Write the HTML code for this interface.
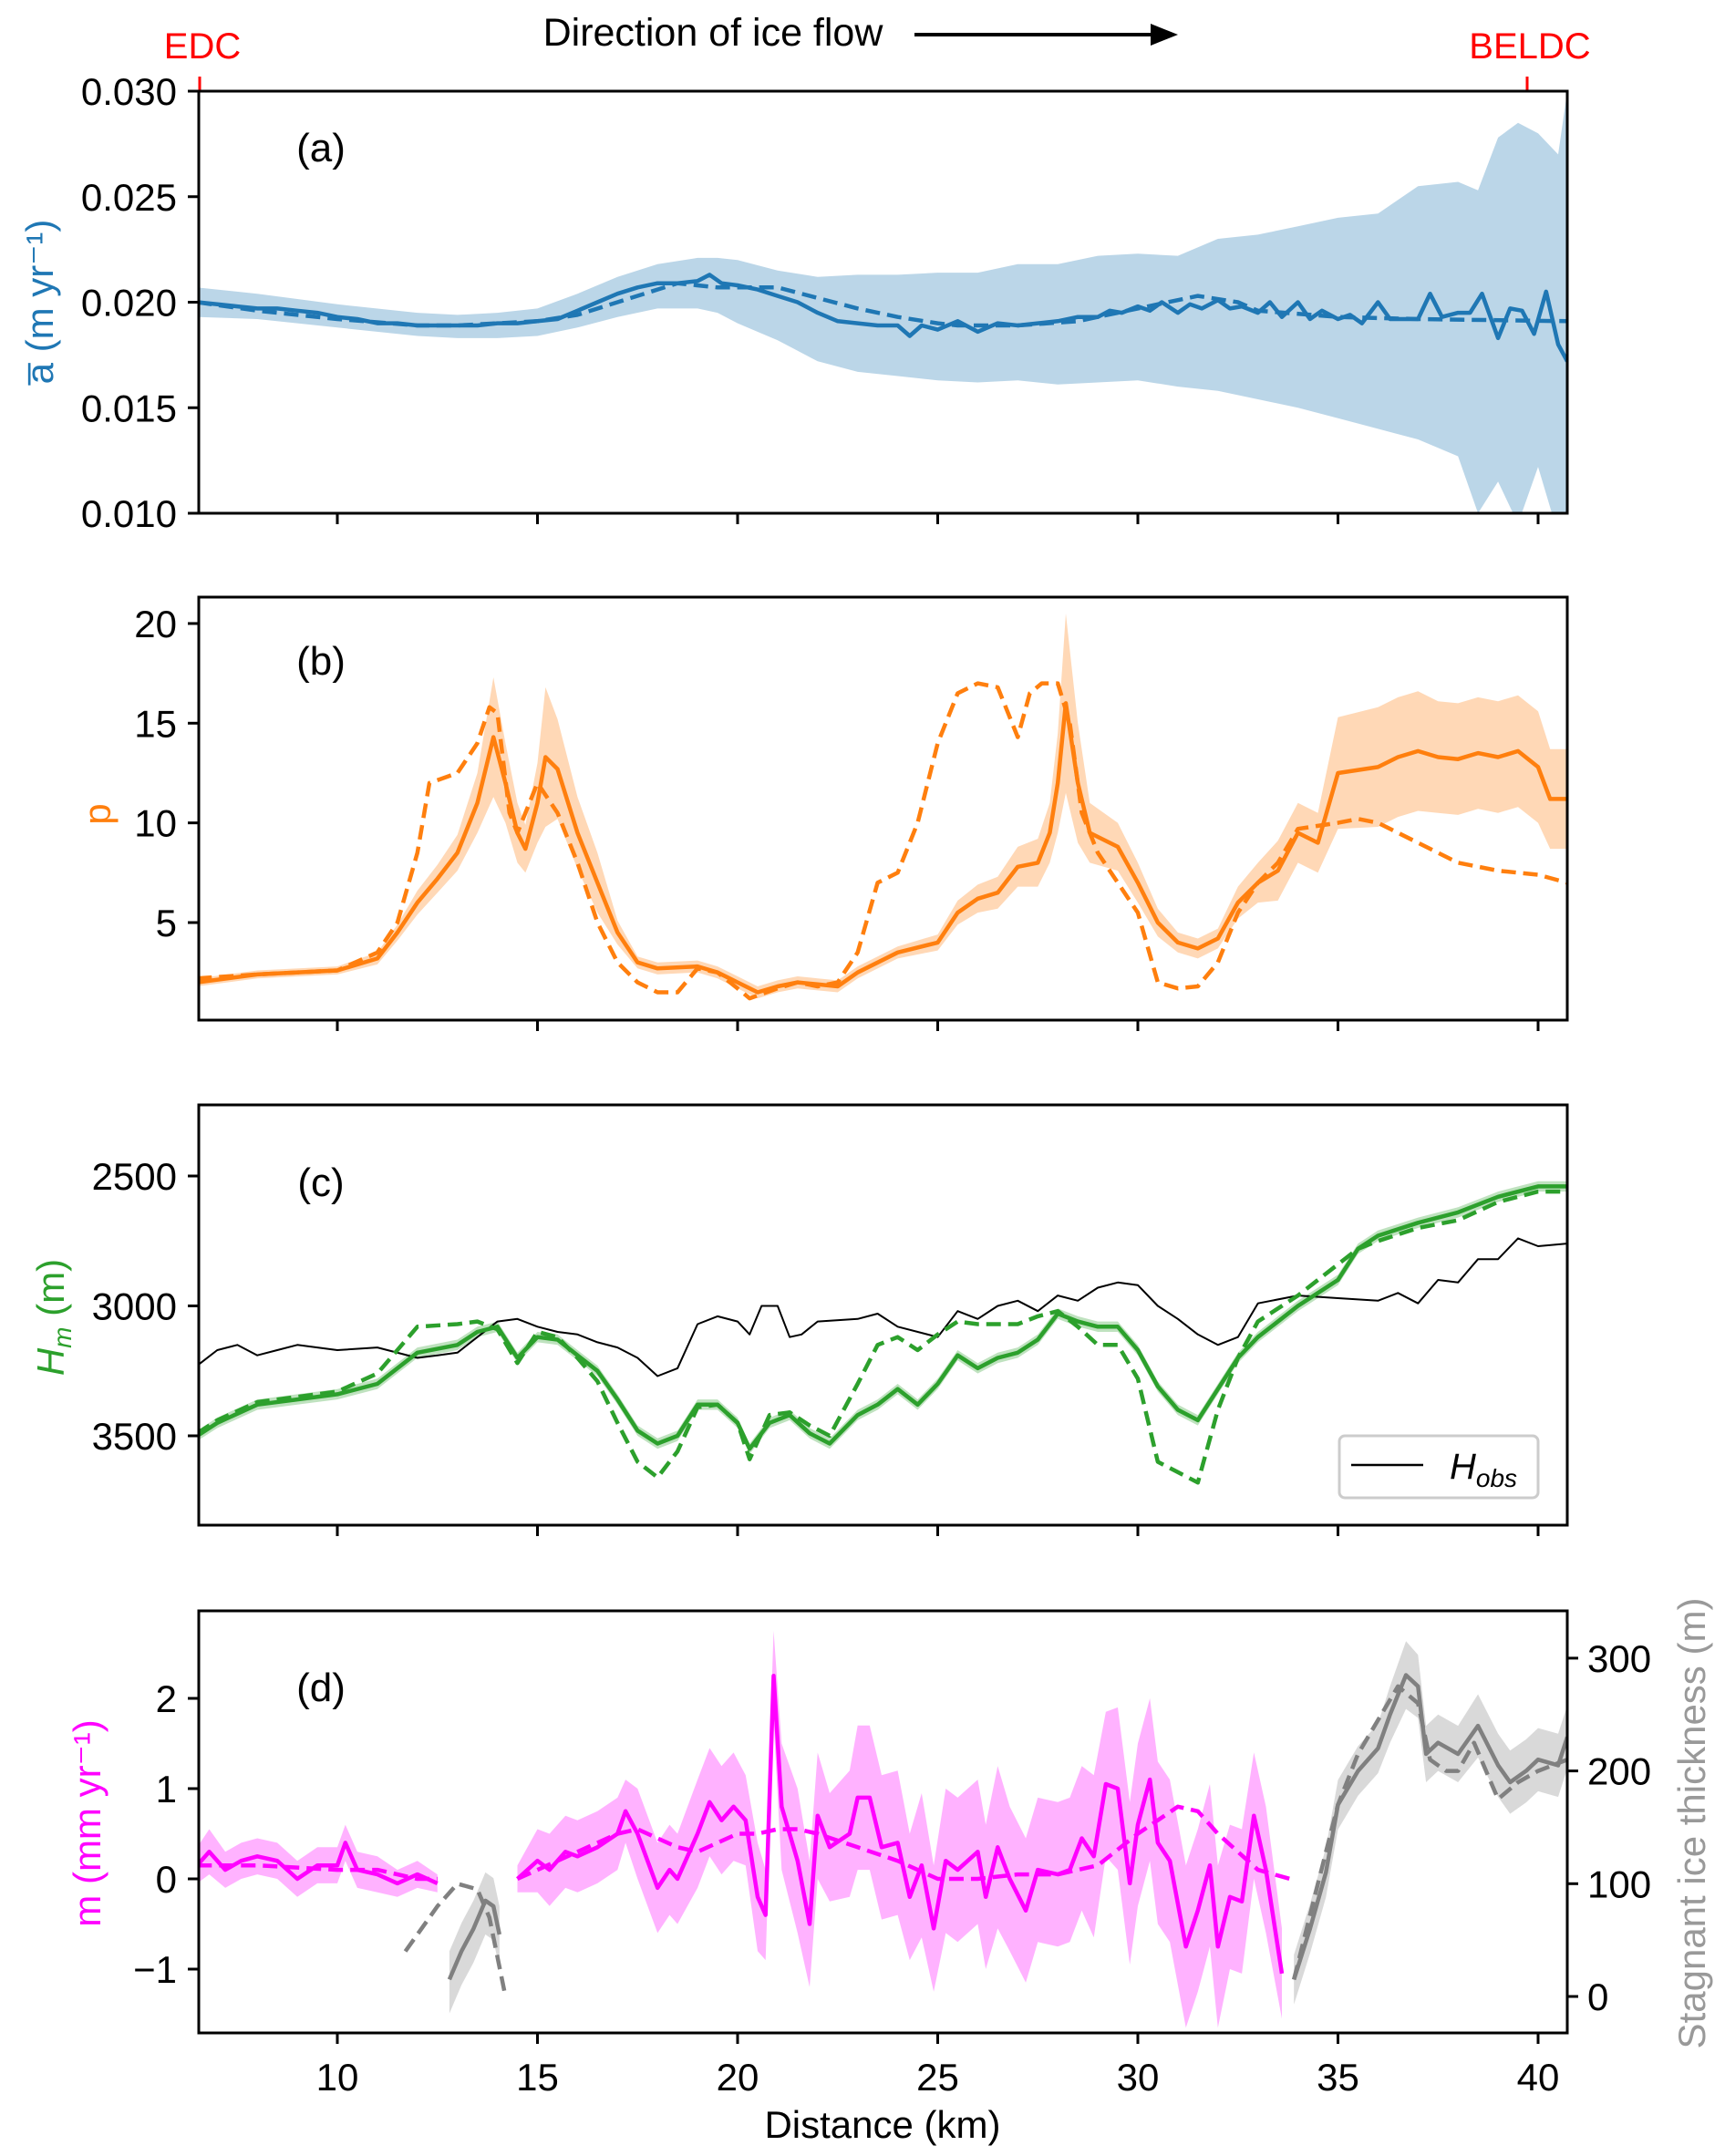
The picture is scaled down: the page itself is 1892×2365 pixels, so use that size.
<!DOCTYPE html>
<html><head><meta charset="utf-8"><style>
body{margin:0;background:#fff}
svg{display:block;font-family:"Liberation Sans","DejaVu Sans",sans-serif}
</style></head><body>
<svg id="fig" width="1892" height="2365" viewBox="0 0 1892 2365" xmlns="http://www.w3.org/2000/svg">
<rect width="1892" height="2365" fill="#fff"/>
<text x="782" y="50" font-size="43" text-anchor="middle">Direction of ice flow</text>
<line x1="1003" y1="38" x2="1265" y2="38" stroke="#000" stroke-width="4"/>
<polygon points="1262,26 1292,38 1262,50" fill="#000"/>
<text x="222" y="64" font-size="40" fill="#f00" text-anchor="middle">EDC</text>
<line x1="219" y1="84" x2="219" y2="100" stroke="#f00" stroke-width="3"/>
<text x="1678" y="64" font-size="40" fill="#f00" text-anchor="middle">BELDC</text>
<line x1="1675" y1="84" x2="1675" y2="100" stroke="#f00" stroke-width="3"/>
<g id="plots"></g>
<text x="968" y="2345" font-size="42" text-anchor="middle">Distance (km)</text>
</svg>
<script>
// ---------- data ----------
const xTicks=[10,15,20,25,30,35,40];
// panel a
const aX=[6.5,7,7.5,8,8.5,9,9.5,10,10.5,11,11.5,12,12.5,13,13.5,14,14.5,15,15.5,16,16.5,17,17.5,18,18.5,19,19.3,19.6,20,20.5,21,21.5,22,22.5,23,23.5,24,24.3,24.6,25,25.5,26,26.5,27,27.5,28,28.5,29,29.3,29.6,30,30.3,30.6,31,31.3,31.6,32,32.3,32.6,33,33.3,33.6,34,34.3,34.6,35,35.3,35.6,36,36.3,36.6,37,37.3,37.6,38,38.3,38.6,39,39.3,39.6,39.9,40.2,40.5,40.73];
const aSolid=[0.0200,0.0199,0.0198,0.0197,0.0197,0.0196,0.0195,0.0193,0.0192,0.0190,0.0190,0.0189,0.0189,0.0189,0.0189,0.0190,0.0190,0.0191,0.0192,0.0196,0.0200,0.0204,0.0207,0.0209,0.0209,0.0210,0.0213,0.0209,0.0208,0.0206,0.0203,0.0200,0.0195,0.0191,0.0190,0.0189,0.0189,0.0184,0.0189,0.0187,0.0191,0.0186,0.0190,0.0189,0.0190,0.0191,0.0193,0.0193,0.0196,0.0195,0.0198,0.0196,0.0200,0.0195,0.0199,0.0197,0.0201,0.0197,0.0198,0.0195,0.0200,0.0193,0.0200,0.0192,0.0196,0.0192,0.0194,0.0190,0.0200,0.0192,0.0192,0.0192,0.0204,0.0193,0.0195,0.0195,0.0204,0.0183,0.0197,0.0196,0.0185,0.0205,0.0180,0.0172,0.0190];
const aDashX=[6.5,8,10,12,13,14,15,16,17,18,18.5,19.5,20,21,22,23,24,25,25.5,27,28.5,30,31,31.5,32.5,33,35,37,40.73];
const aDash=[0.0200,0.0196,0.0192,0.0189,0.0189,0.0190,0.0191,0.0194,0.0200,0.0206,0.0209,0.0207,0.0207,0.0207,0.0202,0.0197,0.0193,0.0190,0.0189,0.0189,0.0191,0.0197,0.0201,0.0203,0.0200,0.0196,0.0193,0.0192,0.0191];
const aBandX=[6.5,8,10,12,13,14,15,16,17,18,19,19.5,20,21,22,23,24,25,26,27,28,29,30,31,32,33,34,35,36,37,38,38.5,39,39.5,40,40.5,40.73];
const aLo=[0.0193,0.0192,0.0188,0.0184,0.0183,0.0183,0.0184,0.0188,0.0193,0.0197,0.0197,0.0195,0.0190,0.0182,0.0172,0.0167,0.0165,0.0163,0.0162,0.0163,0.0161,0.0162,0.0163,0.0160,0.0158,0.0154,0.0150,0.0145,0.0140,0.0135,0.0127,0.0100,0.0115,0.0095,0.0122,0.0090,0.0090];
const aHi=[0.0207,0.0204,0.0199,0.0195,0.0194,0.0195,0.0197,0.0204,0.0212,0.0218,0.0221,0.0221,0.0220,0.0215,0.0212,0.0213,0.0213,0.0214,0.0214,0.0218,0.0218,0.0222,0.0223,0.0222,0.0230,0.0232,0.0236,0.0240,0.0242,0.0255,0.0257,0.0253,0.0278,0.0285,0.0280,0.0270,0.0300];
// panel b
const pX=[6.5,8,10,11,11.5,12,12.5,13,13.5,13.9,14.2,14.5,14.7,15,15.2,15.5,16,16.5,17,17.5,18,19,19.5,20,20.5,21,21.5,22,22.5,23,24,25,25.5,26,26.5,27,27.5,27.8,28,28.2,28.5,28.8,29.5,30,30.5,31,31.5,32,32.5,33,33.5,34,34.5,35,36,36.5,37,37.5,38,38.5,39,39.5,40,40.3,40.73];
const pSolid=[2.0,2.4,2.6,3.2,4.5,6.0,7.2,8.5,11,14.3,12,9.5,8.7,11,13.3,12.7,9.5,7,4.5,3.0,2.7,2.8,2.5,2.0,1.5,1.8,2.0,1.9,1.8,2.5,3.5,4.0,5.5,6.2,6.5,7.8,8.0,9.5,12,16,12,9.5,8.8,7,5,4,3.7,4.2,6.0,7.0,7.6,9.5,9.0,12.5,12.8,13.3,13.6,13.3,13.2,13.5,13.3,13.6,12.8,11.2,11.2];
const pHalf=[0.2,0.2,0.2,0.3,0.4,0.6,0.7,0.9,1.5,3,2,1.5,1.2,2,3.5,2.5,1.8,1.5,0.6,0.3,0.3,0.3,0.3,0.3,0.3,0.3,0.3,0.3,0.3,0.3,0.3,0.4,0.6,0.7,0.8,1,1.2,1.5,2.5,4.5,3,1.5,1.2,1,0.7,0.5,0.5,0.5,0.8,1,1.5,1.5,1.5,2.8,3,3,3,2.8,2.8,2.8,2.8,2.8,2.8,2.5,2.5];
const pDashX=[6.5,8,10,11,11.5,12,12.3,13,13.5,13.8,14,14.3,14.5,15,15.5,16,16.5,17,17.5,18,18.5,19,19.5,20,20.3,21,21.5,22,22.5,23,23.5,24,24.5,25,25.5,26,26.5,27,27.3,27.6,28,28.3,28.6,29,29.5,30,30.5,31,31.5,32,32.5,33,33.5,34,35,35.5,36,37,38,39,39.5,40,40.73];
const pDash=[2.2,2.4,2.6,3.5,5,8.5,12,12.5,14,15.8,15.5,10.5,9.5,12,10.5,8,5,3,2,1.5,1.5,2.7,2.5,1.7,1.2,1.7,2.0,1.8,2.0,3.5,7,7.5,10,14,16.5,17,16.8,14.3,16.5,17,17,15,10.5,8.5,7,5.5,2,1.7,1.8,3,5.5,7,8,9.7,10,10.2,10,9,8,7.6,7.5,7.4,7.0];
// panel c
const hX=[6.5,7,8,9,10,11,12,13,13.5,14,14.5,15,15.5,16,16.5,17,17.5,18,18.5,19,19.5,20,20.3,20.8,21.3,21.8,22.3,23,23.5,24,24.5,25,25.5,26,26.5,27,27.5,28,28.5,29,29.5,30,30.5,31,31.5,32,32.5,33,34,35,35.5,36,37,38,39,40,40.73];
const hSolid=[3500,3450,3380,3360,3340,3300,3180,3150,3100,3080,3200,3120,3130,3190,3250,3360,3480,3530,3500,3380,3380,3450,3550,3450,3420,3490,3530,3420,3380,3320,3380,3300,3190,3240,3200,3180,3130,3030,3060,3080,3080,3170,3310,3400,3440,3320,3200,3120,3000,2900,2780,2730,2680,2640,2580,2540,2540];
const hDash=[3490,3440,3370,3350,3330,3260,3080,3070,3060,3090,3220,3100,3120,3200,3290,3450,3600,3660,3560,3390,3380,3450,3590,3420,3410,3460,3500,3300,3150,3120,3170,3110,3060,3070,3070,3070,3040,3020,3080,3150,3150,3280,3600,3640,3680,3400,3200,3060,2960,2840,2780,2750,2700,2670,2600,2560,2560];
const obsX=[6.5,7,7.5,8,8.5,9,10,11,12,12.5,13,14,14.5,15,15.5,16,16.5,17,17.5,18,18.5,19,19.5,20,20.3,20.6,21,21.3,21.6,22,23,23.5,24,25,25.5,26,26.5,27,27.5,28,28.5,29,29.5,30,30.5,31,31.5,32,32.5,33,34,35,36,36.5,37,37.5,38,38.5,39,39.5,40,40.73];
const obs=[3230,3170,3150,3190,3170,3150,3170,3160,3200,3190,3180,3060,3050,3080,3100,3110,3140,3160,3200,3270,3240,3070,3040,3060,3110,3000,3000,3120,3110,3060,3050,3030,3080,3120,3020,3050,3000,2980,3020,2960,2980,2930,2910,2920,3000,3050,3110,3150,3120,2990,2960,2970,2980,2950,2990,2900,2910,2820,2820,2740,2770,2760];
// panel d
const mX1=[6.5,6.8,7.2,7.6,8,8.5,9,9.5,10,10.2,10.5,11,11.5,12,12.5];
const mS1=[0.15,0.3,0.1,0.2,0.25,0.2,0.0,0.15,0.15,0.4,0.1,0.05,-0.05,0.05,-0.05];
const mH1=[0.2,0.25,0.2,0.2,0.2,0.2,0.2,0.2,0.2,0.2,0.2,0.2,0.15,0.15,0.1];
const mX2=[14.5,15,15.3,15.7,16,16.5,17,17.2,17.5,18,18.3,18.5,19,19.3,19.6,19.9,20.2,20.5,20.7,20.9,21.1,21.5,21.8,22,22.3,22.8,23,23.3,23.6,24,24.3,24.6,24.9,25.2,25.5,26,26.2,26.5,26.8,27.2,27.5,28,28.3,28.6,28.9,29.2,29.5,29.8,30,30.3,30.5,30.8,31.2,31.5,31.8,32,32.3,32.6,32.9,33.2,33.6];
const mS2=[0.0,0.2,0.1,0.3,0.25,0.35,0.5,0.75,0.5,-0.1,0.1,0.0,0.5,0.85,0.65,0.8,0.65,-0.2,-0.4,2.25,0.8,0.2,-0.5,0.7,0.35,0.5,0.9,0.9,0.35,0.4,-0.2,0.15,-0.55,0.2,0.1,0.3,-0.2,0.35,0.0,-0.35,0.1,0.05,0.1,0.45,0.25,1.05,1.0,-0.05,0.6,1.1,0.4,0.2,-0.75,-0.35,0.15,-0.75,-0.2,-0.25,0.7,0.1,-1.05];
const mH2=[0.15,0.35,0.4,0.4,0.4,0.4,0.4,0.35,0.5,0.5,0.5,0.5,0.6,0.6,0.6,0.6,0.5,0.6,0.5,0.5,0.7,0.8,0.7,0.7,0.6,0.7,0.8,0.8,0.8,0.8,0.7,0.8,0.7,0.8,0.8,0.8,0.8,0.9,0.8,0.8,0.8,0.8,0.8,0.8,0.9,0.8,0.9,0.9,0.9,0.9,0.9,0.9,0.9,0.9,0.9,0.9,0.8,0.8,0.7,0.7,0.5];
const mDX1=[6.5,8,10,11,12,12.5];
const mD1=[0.15,0.15,0.1,0.1,0.0,0.0];
const mDX2=[14.5,16,17,17.5,18,18.5,19,20,20.5,21,21.5,22,23,24,25,26,27,28,29,30,31,31.5,32,33,33.8];
const mD2=[0.0,0.3,0.5,0.55,0.45,0.35,0.3,0.5,0.5,0.55,0.55,0.5,0.35,0.2,0.0,0.0,0.05,0.05,0.15,0.5,0.8,0.75,0.5,0.1,0.0];
const gX1=[12.8,13.1,13.4,13.7,13.9,14.05];
const gS1=[15,40,60,85,80,55];
const gX2=[33.9,34.3,34.7,35,35.5,36,36.3,36.7,37,37.2,37.5,38,38.5,39,39.3,39.7,40,40.5,40.73];
const gS2=[15,60,110,170,200,220,250,285,275,215,225,215,240,205,190,200,210,205,230];
const gH=[22,22,22,22,22,22,25,30,28,25,25,25,28,28,28,28,28,28,28];
const gDX1=[11.7,12,12.5,13,13.5,13.8,14.2];
const gD1=[40,55,80,100,95,70,0];
const gDX2=[33.9,34.5,35,35.5,36,36.5,37,37.3,37.7,38,38.4,39,39.5,40,40.73];
const gD2=[15,100,170,215,245,275,260,210,200,200,225,175,190,200,210];

// ---------- axes ----------
const L=218,R=1719;
const xs=k=>370+(k-10)*43.9;
const NS='http://www.w3.org/2000/svg';
const root=document.getElementById('plots');
function el(tag,attrs,parent){const e=document.createElementNS(NS,tag);for(const k in attrs)e.setAttribute(k,attrs[k]);(parent||root).appendChild(e);return e;}
function linePath(X,Y,ys){return X.map((x,i)=>(i?'L':'M')+xs(x).toFixed(1)+','+ys(Y[i]).toFixed(1)).join('');}
function bandPath(X,lo,hi,ys){let d=X.map((x,i)=>(i?'L':'M')+xs(x).toFixed(1)+','+ys(hi[i]).toFixed(1)).join('');for(let i=X.length-1;i>=0;i--)d+='L'+xs(X[i]).toFixed(1)+','+ys(lo[i]).toFixed(1);return d+'Z';}

function panel(id,top,bot){
  const g=el('g',{});
  
  
  const cp=el('clipPath',{id:'clip-'+id},g);
  el('rect',{x:L,y:top,width:R-L,height:bot-top},cp);
  const data=el('g',{'clip-path':'url(#clip-'+id+')'},g);
  
  
  xTicks.forEach(t=>{
    const tk=el('line',{x1:xs(t),x2:xs(t),y1:bot,y2:bot+12,stroke:'#000','stroke-width':3},g);
    
    
  });
  return {g,data,top,bot};
}
function frame(p,id){
  const f=el('rect',{x:L,y:p.top,width:R-L,height:p.bot-p.top,fill:'none',stroke:'#000','stroke-width':3},p.g);
  
  
}
function yTicks(p,vals,labels,ys,id){
  vals.forEach((v,i)=>{
    const t=el('line',{x1:L-12,x2:L,y1:ys(v),y2:ys(v),stroke:'#000','stroke-width':3},p.g);
    
    
    const tx=el('text',{x:L-24,y:ys(v)+15,'font-size':42,'text-anchor':'end'},p.g);
    tx.textContent=labels[i];
    
    
  });
}
function series(p,d,color,w,dash,name){
  const a={d:d,fill:'none',stroke:color,'stroke-width':w,'stroke-linejoin':'round'};
  if(dash)a['stroke-dasharray']=dash;
  const e=el('path',a,p.data);
  
  
}
function band(p,d,color,op,name){
  const e=el('path',{d:d,fill:color,'fill-opacity':op},p.data);
  
  
}
function label(x,y,txt,color,rot,name,size){
  const t=el('text',{x:x,y:y,'font-size':size||42,fill:color,'text-anchor':'middle',transform:rot?`rotate(${rot} ${x} ${y})`:''});
  t.textContent=txt;
  
  
  return t;
}

// panel a
const ya=v=>100+(0.030-v)/0.020*463;
const pa=panel('a',100,563);
band(pa,bandPath(aBandX,aLo,aHi,ya),'#1f77b4',0.3,'accumulation-uncertainty-band');
series(pa,linePath(aDashX,aDash,ya),'#1f77b4',4.5,'16 8','accumulation-dashed-line');
series(pa,linePath(aX,aSolid,ya),'#1f77b4',4.5,null,'accumulation-line');
frame(pa,'a');
yTicks(pa,[0.010,0.015,0.020,0.025,0.030],['0.010','0.015','0.020','0.025','0.030'],ya,'a');
label(352,177,'(a)','#000',0,'panel-label-a',44);
label(58,331,'a̅ (m yr⁻¹)','#1f77b4',-90,'y-axis-title-a');

// panel b
const yb=v=>1012-(v-5)*21.87;
const pb=panel('b',655,1119);
band(pb,bandPath(pX,pSolid.map((v,i)=>v-pHalf[i]),pSolid.map((v,i)=>v+pHalf[i]),yb),'#ff7f0e',0.3,'p-uncertainty-band');
series(pb,linePath(pDashX,pDash,yb),'#ff7f0e',4.5,'16 8','p-dashed-line');
series(pb,linePath(pX,pSolid,yb),'#ff7f0e',4.5,null,'p-line');
frame(pb,'b');
yTicks(pb,[5,10,15,20],['5','10','15','20'],yb,'b');
label(352,740,'(b)','#000',0,'panel-label-b',44);
label(121,893,'p','#ff7f0e',-90,'y-axis-title-b');

// panel c
const yc=v=>1290+(v-2500)*0.285;
const pc=panel('c',1212,1673);
band(pc,bandPath(hX,hSolid.map(v=>v-20),hSolid.map(v=>v+20),yc),'#2ca02c',0.3,'hm-uncertainty-band');
series(pc,linePath(obsX,obs,yc),'#000',2,null,'h-obs-line');
series(pc,linePath(hX,hDash,yc),'#2ca02c',4.5,'16 8','hm-dashed-line');
series(pc,linePath(hX,hSolid,yc),'#2ca02c',4.5,null,'hm-line');
frame(pc,'c');
yTicks(pc,[2500,3000,3500],['2500','3000','3500'],yc,'c');
label(352,1312,'(c)','#000',0,'panel-label-c',44);
(function(){
  const t=label(70,1445,'','#2ca02c',-90,'y-axis-title-c');
  t.innerHTML='<tspan font-style="italic">H</tspan><tspan font-style="italic" font-size="28" dy="8">m</tspan><tspan dy="-8"> (m)</tspan>';
})();
const lg=el('g',{});


el('rect',{x:1469,y:1575,width:218,height:68,rx:6,fill:'#fff',stroke:'#ccc','stroke-width':3},lg);
el('line',{x1:1482,x2:1561,y1:1607,y2:1607,stroke:'#000','stroke-width':2.5},lg);
const lt=el('text',{x:1590,y:1622,'font-size':40,'font-style':'italic'},lg);
lt.innerHTML='H<tspan font-size="28" dy="9">obs</tspan>';



// panel d
const yd=v=>2061-v*99;
const yr=v=>2190-v*1.237;
const pd=panel('d',1767,2230);
band(pd,bandPath(mX1,mS1.map((v,i)=>v-mH1[i]),mS1.map((v,i)=>v+mH1[i]),yd),'#ff00ff',0.3,'melt-band-1');
band(pd,bandPath(mX2,mS2.map((v,i)=>v-mH2[i]),mS2.map((v,i)=>v+mH2[i]),yd),'#ff00ff',0.3,'melt-band-2');
band(pd,bandPath(gX1,gS1.map(v=>v-30),gS1.map(v=>v+25),yr),'#808080',0.3,'stagnant-band-1');
band(pd,bandPath(gX2,gS2.map((v,i)=>v-gH[i]),gS2.map((v,i)=>v+gH[i]),yr),'#808080',0.3,'stagnant-band-2');
series(pd,linePath(mDX1,mD1,yd),'#ff00ff',4.5,'16 8','melt-dashed-1');
series(pd,linePath(mDX2,mD2,yd),'#ff00ff',4.5,'16 8','melt-dashed-2');
series(pd,linePath(mX1,mS1,yd),'#ff00ff',4.5,null,'melt-line-1');
series(pd,linePath(mX2,mS2,yd),'#ff00ff',4.5,null,'melt-line-2');
series(pd,linePath(gDX1,gD1,yr),'#808080',4.5,'16 8','stagnant-dashed-1');
series(pd,linePath(gDX2,gD2,yr),'#808080',4.5,'16 8','stagnant-dashed-2');
series(pd,linePath(gX1,gS1,yr),'#808080',4.5,null,'stagnant-line-1');
series(pd,linePath(gX2,gS2,yr),'#808080',4.5,null,'stagnant-line-2');
frame(pd,'d');
yTicks(pd,[-1,0,1,2],['−1','0','1','2'],yd,'d');
[0,100,200,300].forEach(v=>{
  const t=el('line',{x1:R,x2:R+12,y1:yr(v),y2:yr(v),stroke:'#000','stroke-width':3},pd.g);
  
  
  const tx=el('text',{x:R+22,y:yr(v)+15,'font-size':42},pd.g);
  tx.textContent=String(v);
  
  
});
xTicks.forEach(v=>{
  const tx=el('text',{x:xs(v),y:2293,'font-size':42,'text-anchor':'middle'},pd.g);
  tx.textContent=String(v);
  
  
});
label(352,1866,'(d)','#000',0,'panel-label-d',44);
label(110,2000,'m (mm yr⁻¹)','#ff00ff',-90,'y-axis-title-d');
label(1870,2000,'Stagnant ice thickness (m)','#999',-90,'y-axis-title-right');
</script>
</body></html>
